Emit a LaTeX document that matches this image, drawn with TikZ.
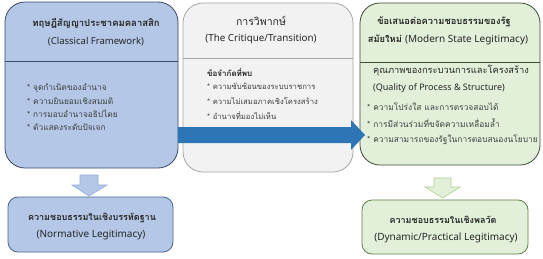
\documentclass[tikz,border=0pt]{standalone}
\usepackage{fontspec}
\setmainfont{Noto Sans}
\newfontfamily\thai[Script=Thai]{Loma}
\newfontfamily\en{Noto Sans}
\definecolor{bluefill}{HTML}{B4C7E7}
\definecolor{blueborder}{HTML}{3A4A66}
\definecolor{grayfill}{HTML}{F2F2F2}
\definecolor{grayborder}{HTML}{A6A6A6}
\definecolor{greenfill}{HTML}{E2F0D9}
\definecolor{greenborder}{HTML}{3F4B35}
\definecolor{arrowblue}{HTML}{2E75B6}
\definecolor{txt}{HTML}{262626}
\definecolor{bul}{HTML}{404040}
\definecolor{bluearrowborder}{HTML}{8FAADC}
\definecolor{greenarrowborder}{HTML}{A9D18E}
\definecolor{bluesmallborder}{HTML}{4A6491}
\definecolor{greensmallborder}{HTML}{5E7F45}
\tikzset{
  bigbox/.style={rounded corners=20pt, line width=0.8pt},
  smallbox/.style={rounded corners=10pt, line width=0.8pt},
  ttl/.style={font=\thai\bfseries\fontsize{9.5}{11}\selectfont, text=txt, inner sep=0pt},
  sub/.style={font=\en\fontsize{9.5}{12}\selectfont, text=txt, inner sep=0pt},
  bullet/.style={font=\thai\fontsize{8.3}{9}\selectfont, text=bul, inner sep=0pt, anchor=west},
  mbullet/.style={bullet, font=\thai\fontsize{7.7}{9}\selectfont},
  rbullet/.style={bullet, font=\thai\fontsize{8.4}{9}\selectfont},
}
\begin{document}
\begin{tikzpicture}[x=1pt,y=-1pt]
\useasboundingbox[fill=white] (0,0) rectangle (543,258);
% middle box
\draw[bigbox, fill=grayfill, draw=grayborder] (183,3) rectangle (353,172);
\draw[grayborder, line width=0.6pt] (183,58) -- (353,58);
% left box
\draw[bigbox, fill=bluefill, draw=blueborder] (5,2) rectangle (178,168);
\draw[blueborder, line width=0.6pt] (5,61) -- (178,61);
% right box
\draw[bigbox, fill=greenfill, draw=greenborder] (360,3) rectangle (540,165);
\draw[greenborder, line width=0.6pt] (360,62) -- (540,62);

% big blue arrow
\fill[arrowblue] (178,127) -- (351,127) -- (351,120) -- (365,135) -- (351,150) -- (351,143) -- (178,143) -- cycle;

% left box texts
\node[ttl] (lt1) at (96,23) {ทฤษฎีสัญญาประชาคมคลาสสิก};
\node[sub] (lt2) at (96,42) {(Classical Framework)};
\node[bullet] (lb1) at (27,88) {* จุดกำเนิดของอำนาจ};
\node[bullet] (lb2) at (27,101) {* ความยินยอมเชิงสมมติ};
\node[bullet] (lb3) at (27,114) {* การมอบอำนาจอธิปไตย};
\node[bullet] (lb4) at (27,127) {* ตัวแสดงระดับปัจเจก};

% middle texts
\node[ttl, font=\thai\fontsize{10.5}{12}\selectfont] (mt1) at (261,21) {การวิพากษ์};
\node[sub, font=\en\fontsize{9.8}{12}\selectfont] (mt2) at (261,39) {(The Critique/Transition)};
\node[bullet, font=\thai\bfseries\fontsize{8}{9}\selectfont, text=txt] (mh) at (207,72) {ข้อจำกัดที่พบ};
\node[mbullet] (mb1) at (207,86) {* ความซับซ้อนของระบบราชการ};
\node[mbullet] (mb2) at (207,101) {* ความไม่เสมอภาคเชิงโครงสร้าง};
\node[mbullet] (mb3) at (207,116) {* อำนาจที่มองไม่เห็น};

% right texts
\node[ttl, font=\thai\bfseries\fontsize{9.3}{11}\selectfont] (rt1) at (444,22) {ข้อเสนอต่อความชอบธรรมของรัฐ};
\node[ttl, font=\thai\bfseries\fontsize{9.3}{11}\selectfont] (rt2) at (448,40) {สมัยใหม่ {\en\mdseries\fontsize{10}{12}\selectfont (Modern State Legitimacy)}};
\node[bullet, font=\thai\fontsize{9.3}{11}\selectfont, text=txt] (rh1) at (373,71) {คุณภาพของกระบวนการและโครงสร้าง};
\node[bullet, font=\en\fontsize{9}{11}\selectfont, text=txt] (rh2) at (373,88) {(Quality of Process \& Structure)};
\node[rbullet] (rb1) at (367,107) {* ความโปร่งใส และการตรวจสอบได้};
\node[rbullet] (rb2) at (367,123) {* การมีส่วนร่วมที่ขจัดความเหลื่อมล้ำ};
\node[rbullet] (rb3) at (367,140) {* ความสามารถของรัฐในการตอบสนองนโยบาย};

% down arrows
\draw[fill=bluefill, draw=bluearrowborder, line width=0.6pt]
  (80,175) -- (98,175) -- (98,185) -- (107,185) -- (89,196) -- (72,185) -- (80,185) -- cycle;
\draw[fill=greenfill, draw=greenarrowborder, line width=0.6pt]
  (434,178) -- (451,178) -- (451,187) -- (460,187) -- (442.5,198) -- (425,187) -- (434,187) -- cycle;

% bottom boxes
\draw[smallbox, fill=bluefill, draw=bluesmallborder] (8,197) rectangle (173,252);
\node[ttl, font=\thai\bfseries\fontsize{9}{11}\selectfont] (bl1) at (92,218) {ความชอบธรรมในเชิงบรรทัดฐาน};
\node[sub, font=\en\fontsize{10}{12}\selectfont] (bl2) at (91,235) {(Normative Legitimacy)};
\draw[smallbox, fill=greenfill, draw=greensmallborder] (362,200) rectangle (528,254);
\node[ttl, font=\thai\bfseries\fontsize{9}{11}\selectfont] (br1) at (443,220) {ความชอบธรรมในเชิงพลวัต};
\node[sub, font=\en\fontsize{10}{12}\selectfont] (br2) at (446,238) {(Dynamic/Practical Legitimacy)};
\end{tikzpicture}
\end{document}
